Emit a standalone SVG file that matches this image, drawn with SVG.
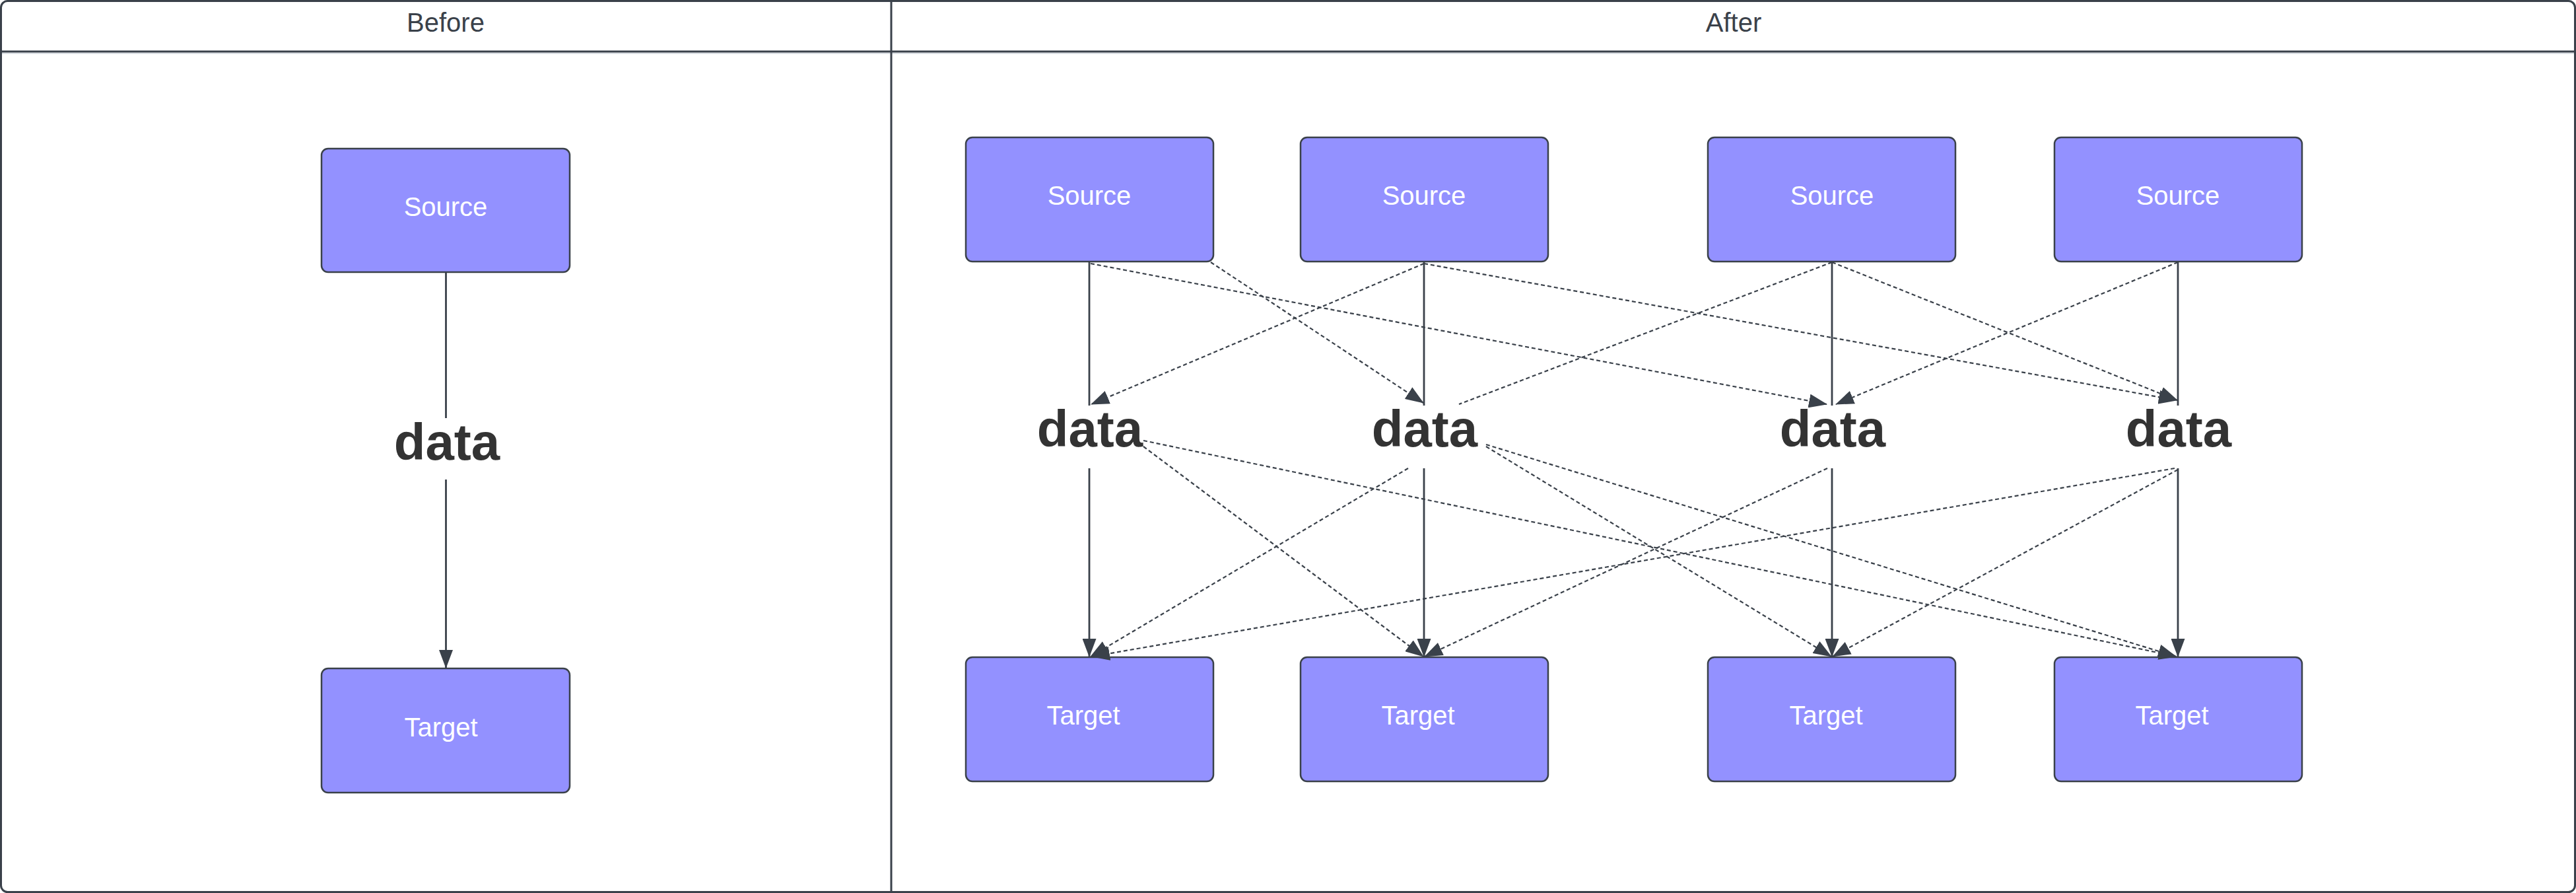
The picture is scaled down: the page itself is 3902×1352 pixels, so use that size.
<svg xmlns="http://www.w3.org/2000/svg" width="3902" height="1352" viewBox="0 0 3902 1352">
<style>
.frame{fill:#ffffff;stroke:#3a414a;stroke-width:3}
.sep{stroke:#3a414a;stroke-width:3;fill:none}
.sep2{stroke:#d2d7de;stroke-width:2;fill:none}
.hdr{font-family:"Liberation Sans",Arial,sans-serif;font-size:40px;fill:#3a414a;text-anchor:middle}
.box{fill:#9391ff;stroke:#3a414a;stroke-width:2.5}
.lbl{font-family:"Liberation Sans",Arial,sans-serif;font-size:40px;fill:#ffffff;text-anchor:middle}
.data{font-family:"Liberation Sans",Arial,sans-serif;font-size:78px;font-weight:bold;fill:#333333;text-anchor:middle}
.solid{stroke:#3a414a;stroke-width:2.8;fill:none}
.dash{stroke:#3a414a;stroke-width:2.2;fill:none;stroke-dasharray:6 4}
</style>
<defs>
<marker id="arrow" markerUnits="userSpaceOnUse" markerWidth="28" markerHeight="21" viewBox="0 0 28 21" refX="27" refY="10.5" orient="auto">
<path d="M0,0 L28,10.5 L0,21 z" fill="#3a414a"/>
</marker>
</defs>
<g id="frame">
<rect class="frame" x="1.5" y="1.5" width="3899" height="1349" rx="10" ry="10"/>
<line class="sep2" x1="3" y1="80.5" x2="3899" y2="80.5"/>
<line class="sep" x1="1.5" y1="78" x2="3900.5" y2="78"/>
<line class="sep" x1="1350" y1="1.5" x2="1350" y2="1350.5"/>
<text class="hdr" x="675" y="48">Before</text>
<text class="hdr" x="2626" y="48">After</text>
</g>
<g id="before-source"><rect class="box" x="487" y="225" width="376" height="187" rx="10"/><text class="lbl" x="675" y="327">Source</text></g>
<g id="before-target"><rect class="box" x="487" y="1012" width="376" height="188" rx="10"/><text class="lbl" x="668" y="1115">Target</text></g>
<g id="after-source-1"><rect class="box" x="1463" y="208" width="375" height="188" rx="10"/><text class="lbl" x="1650" y="310">Source</text></g>
<g id="after-source-2"><rect class="box" x="1970" y="208" width="375" height="188" rx="10"/><text class="lbl" x="2157" y="310">Source</text></g>
<g id="after-source-3"><rect class="box" x="2587" y="208" width="375" height="188" rx="10"/><text class="lbl" x="2775" y="310">Source</text></g>
<g id="after-source-4"><rect class="box" x="3112" y="208" width="375" height="188" rx="10"/><text class="lbl" x="3299" y="310">Source</text></g>
<g id="after-target-1"><rect class="box" x="1463" y="995" width="375" height="188" rx="10"/><text class="lbl" x="1641" y="1097">Target</text></g>
<g id="after-target-2"><rect class="box" x="1970" y="995" width="375" height="188" rx="10"/><text class="lbl" x="2148" y="1097">Target</text></g>
<g id="after-target-3"><rect class="box" x="2587" y="995" width="375" height="188" rx="10"/><text class="lbl" x="2766" y="1097">Target</text></g>
<g id="after-target-4"><rect class="box" x="3112" y="995" width="375" height="188" rx="10"/><text class="lbl" x="3290" y="1097">Target</text></g>
<g id="connectors">
<line class="solid" x1="675.5" y1="412" x2="675.5" y2="633"/>
<line class="solid" x1="675.5" y1="726" x2="675.5" y2="1011" marker-end="url(#arrow)"/>
<line class="solid" x1="1650" y1="396" x2="1650" y2="614"/>
<line class="solid" x1="1650" y1="709" x2="1650" y2="994" marker-end="url(#arrow)"/>
<line class="solid" x1="2157" y1="396" x2="2157" y2="614"/>
<line class="solid" x1="2157" y1="709" x2="2157" y2="994" marker-end="url(#arrow)"/>
<line class="solid" x1="2775" y1="396" x2="2775" y2="614"/>
<line class="solid" x1="2775" y1="709" x2="2775" y2="994" marker-end="url(#arrow)"/>
<line class="solid" x1="3299" y1="396" x2="3299" y2="614"/>
<line class="solid" x1="3299" y1="709" x2="3299" y2="994" marker-end="url(#arrow)"/>
<line class="dash" x1="1834" y1="397" x2="2156" y2="610" marker-end="url(#arrow)"/>
<line class="dash" x1="1652" y1="399" x2="2767" y2="612" marker-end="url(#arrow)"/>
<line class="dash" x1="2157" y1="399" x2="1653" y2="612" marker-end="url(#arrow)"/>
<line class="dash" x1="2157" y1="399" x2="3297" y2="606" marker-end="url(#arrow)"/>
<line class="dash" x1="2775" y1="397" x2="2210" y2="612"/>
<line class="dash" x1="2775" y1="397" x2="3298" y2="606" marker-end="url(#arrow)"/>
<line class="dash" x1="3299" y1="397" x2="2781" y2="612" marker-end="url(#arrow)"/>
<line class="dash" x1="1732" y1="676" x2="2156" y2="994" marker-end="url(#arrow)"/>
<line class="dash" x1="1732" y1="667" x2="3297" y2="994" marker-end="url(#arrow)"/>
<line class="dash" x1="2133" y1="709" x2="1652" y2="994" marker-end="url(#arrow)"/>
<line class="dash" x1="2251" y1="676" x2="2774" y2="994" marker-end="url(#arrow)"/>
<line class="dash" x1="2251" y1="673" x2="3296" y2="994" marker-end="url(#arrow)"/>
<line class="dash" x1="2768" y1="709" x2="2158" y2="994" marker-end="url(#arrow)"/>
<line class="dash" x1="3294" y1="709" x2="1654" y2="994" marker-end="url(#arrow)"/>
<line class="dash" x1="3299" y1="711" x2="2776" y2="994" marker-end="url(#arrow)"/>
</g>
<g id="labels">
<text class="data" x="677" y="696">data</text>
<text class="data" x="1651" y="676">data</text>
<text class="data" x="2158" y="676">data</text>
<text class="data" x="2776" y="676">data</text>
<text class="data" x="3300" y="676">data</text>
</g>
</svg>
